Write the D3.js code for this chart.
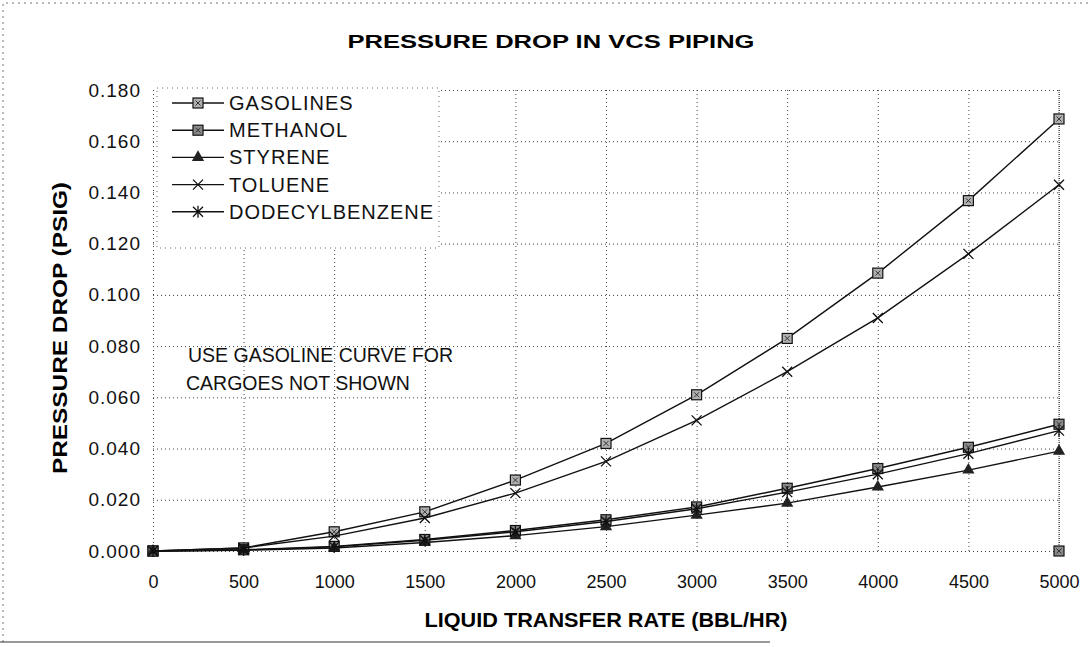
<!DOCTYPE html>
<html lang="en">
<head>
<meta charset="UTF-8">
<title>Pressure Drop in VCS Piping</title>
<script src="https://d3js.org/d3.v7.min.js"></script>
<style>
  body { margin: 0; background: #fff; }
  svg { display: block; font-family: "Liberation Sans", Arial, sans-serif; }
  .grid line { stroke: #444; stroke-dasharray: 1 3; stroke-width: 1; }
  .grid .domain { display: none; }
  .ticks text { font-size: 18px; fill: #111; }
  .ticks.y text { font-size: 19px; letter-spacing: 1px; }
  .ticks .domain, .ticks line { display: none; }
  .series { fill: none; stroke: #111; stroke-width: 1.4; }
  .legend text { font-size: 20px; letter-spacing: 1px; fill: #111; }
  .note { font-size: 19.5px; fill: #111; }
  .frame { stroke: #777; stroke-dasharray: 2 4; fill: none; }
</style>
</head>
<body>
<svg width="1088" height="647"></svg>
<script>
// liquid transfer rate (BBL/HR)
const rates = [0, 500, 1000, 1500, 2000, 2500, 3000, 3500, 4000, 4500, 5000];

// pressure drop (PSIG)
const gasolines = [0, 0.0012, 0.0075, 0.0153, 0.0277, 0.042, 0.061, 0.083, 0.1085, 0.1368, 0.1687];
const methanol = [0, 0.0005, 0.0018, 0.0045, 0.008, 0.0122, 0.0172, 0.0245, 0.0322, 0.0405, 0.0495];
const styrene = [0, 0.0003, 0.0012, 0.0033, 0.006, 0.0095, 0.014, 0.0187, 0.025, 0.0316, 0.039];
const toluene = [0, 0.0012, 0.0058, 0.0129, 0.0226, 0.035, 0.051, 0.070, 0.091, 0.116, 0.143];
const dodecylbenzene = [0, 0.0004, 0.0016, 0.0042, 0.0075, 0.0115, 0.0165, 0.023, 0.030, 0.038, 0.047];

// lone marker sitting on the axis at 5000
const strayPoints = [[5000, 0]];

const seriesNames = ["GASOLINES", "METHANOL", "STYRENE", "TOLUENE", "DODECYLBENZENE"];
const seriesMarkers = ["square", "square2", "triangle", "cross", "star"];
const seriesValues = [gasolines, methanol, styrene, toluene, dodecylbenzene];

const yTicks = [0, 0.02, 0.04, 0.06, 0.08, 0.10, 0.12, 0.14, 0.16, 0.18];
const xTicks = rates;

const svg = d3.select("svg");
const margin = { left: 153, right: 29, top: 90, bottom: 96 };
const width = 1088 - margin.left - margin.right;
const height = 647 - margin.top - margin.bottom;

const x = d3.scaleLinear().domain([0, 5000]).range([0, width]);
const y = d3.scaleLinear().domain([0, 0.18]).range([height, 0]);

// page border left by the scan
svg.append("path").attr("class", "frame")
    .attr("d", "M3,642V3H1088");
svg.append("line")
    .attr("x1", 0).attr("x2", 770).attr("y1", 642).attr("y2", 642)
    .attr("stroke", "#333").attr("stroke-width", 1);

const g = svg.append("g").attr("transform", `translate(${margin.left},${margin.top})`);

// grid
g.append("g").attr("class", "grid")
    .call(d3.axisLeft(y).tickValues(yTicks).tickSize(-width).tickFormat(""));
g.append("g").attr("class", "grid")
    .attr("transform", `translate(0,${height})`)
    .call(d3.axisBottom(x).tickValues(xTicks).tickSize(height).tickFormat(""))
    .selectAll("line").attr("y2", -height);
g.append("line")
    .attr("x1", width).attr("x2", width).attr("y1", 0).attr("y2", height)
    .attr("stroke", "#333").attr("stroke-dasharray", "1 1");

// tick labels
g.append("g").attr("class", "ticks y")
    .call(d3.axisLeft(y).tickValues(yTicks).tickSize(0).tickPadding(12).tickFormat(d3.format(".3f")));
g.append("g").attr("class", "ticks")
    .attr("transform", `translate(0,${height})`)
    .call(d3.axisBottom(x).tickValues(xTicks).tickSize(0).tickPadding(24).tickFormat(d3.format("d")));

// markers
function drawMarker(sel, type) {
    if (type === "square" || type === "square2") {
        sel.append("rect")
            .attr("x", -5).attr("y", -5).attr("width", 10).attr("height", 10)
            .attr("fill", type === "square" ? "#b0b0b0" : "#8a8a8a")
            .attr("stroke", "#111").attr("stroke-width", 1.2);
        sel.append("path")
            .attr("d", "M-2.5,-2.5L2.5,2.5M-2.5,2.5L2.5,-2.5")
            .attr("stroke", "#333").attr("stroke-width", 1);
    } else if (type === "triangle") {
        sel.append("path")
            .attr("d", d3.symbol(d3.symbolTriangle, 65))
            .attr("fill", "#222");
    } else if (type === "cross") {
        sel.append("path")
            .attr("d", "M-5,-5L5,5M-5,5L5,-5")
            .attr("stroke", "#111").attr("stroke-width", 1.3);
    } else {
        sel.append("path")
            .attr("d", "M-5,-5L5,5M-5,5L5,-5M0,-6V6")
            .attr("stroke", "#111").attr("stroke-width", 1.3);
    }
}

const line = d3.line().x(d => x(d[0])).y(d => y(d[1]));

seriesValues.forEach((vals, i) => {
    const pts = rates.map((r, j) => [r, vals[j]]);
    g.append("path").attr("class", "series").attr("d", line(pts));
    g.append("g").selectAll("g")
        .data(pts)
        .join("g")
        .attr("transform", d => `translate(${x(d[0])},${y(d[1])})`)
        .each(function () { drawMarker(d3.select(this), seriesMarkers[i]); });
});

g.append("g").selectAll("g")
    .data(strayPoints)
    .join("g")
    .attr("transform", d => `translate(${x(d[0])},${y(d[1])})`)
    .each(function () { drawMarker(d3.select(this), "square2"); });

// legend
const legend = svg.append("g").attr("class", "legend");
legend.append("rect")
    .attr("x", 157).attr("y", 88).attr("width", 282).attr("height", 160)
    .attr("fill", "#fff").attr("stroke", "#666").attr("stroke-dasharray", "1 4");
seriesNames.forEach((name, i) => {
    const ly = 103 + i * 27.2;
    const item = legend.append("g").attr("transform", `translate(0,${ly})`);
    item.append("line").attr("x1", 172).attr("x2", 224).attr("y1", 0).attr("y2", 0)
        .attr("stroke", "#111").attr("stroke-width", 1.4);
    drawMarker(item.append("g").attr("transform", "translate(198,0)"), seriesMarkers[i]);
    item.append("text").attr("x", 229).attr("y", 7).text(name);
});

// note
svg.append("text").attr("class", "note").attr("x", 188).attr("y", 362).text("USE GASOLINE CURVE FOR");
svg.append("text").attr("class", "note").attr("x", 186).attr("y", 390).text("CARGOES NOT SHOWN");

// titles
svg.append("text")
    .attr("x", 551).attr("y", 48)
    .attr("text-anchor", "middle")
    .attr("font-size", 19).attr("font-weight", "bold")
    .attr("textLength", 407).attr("lengthAdjust", "spacingAndGlyphs")
    .text("PRESSURE DROP IN VCS PIPING");

svg.append("text")
    .attr("x", 606).attr("y", 627)
    .attr("text-anchor", "middle")
    .attr("font-size", 20).attr("font-weight", "bold")
    .attr("textLength", 363).attr("lengthAdjust", "spacingAndGlyphs")
    .text("LIQUID TRANSFER RATE (BBL/HR)");

svg.append("text")
    .attr("transform", "translate(67,328) rotate(-90)")
    .attr("text-anchor", "middle")
    .attr("font-size", 20).attr("font-weight", "bold")
    .attr("textLength", 292).attr("lengthAdjust", "spacingAndGlyphs")
    .text("PRESSURE DROP (PSIG)");
</script>
</body>
</html>
